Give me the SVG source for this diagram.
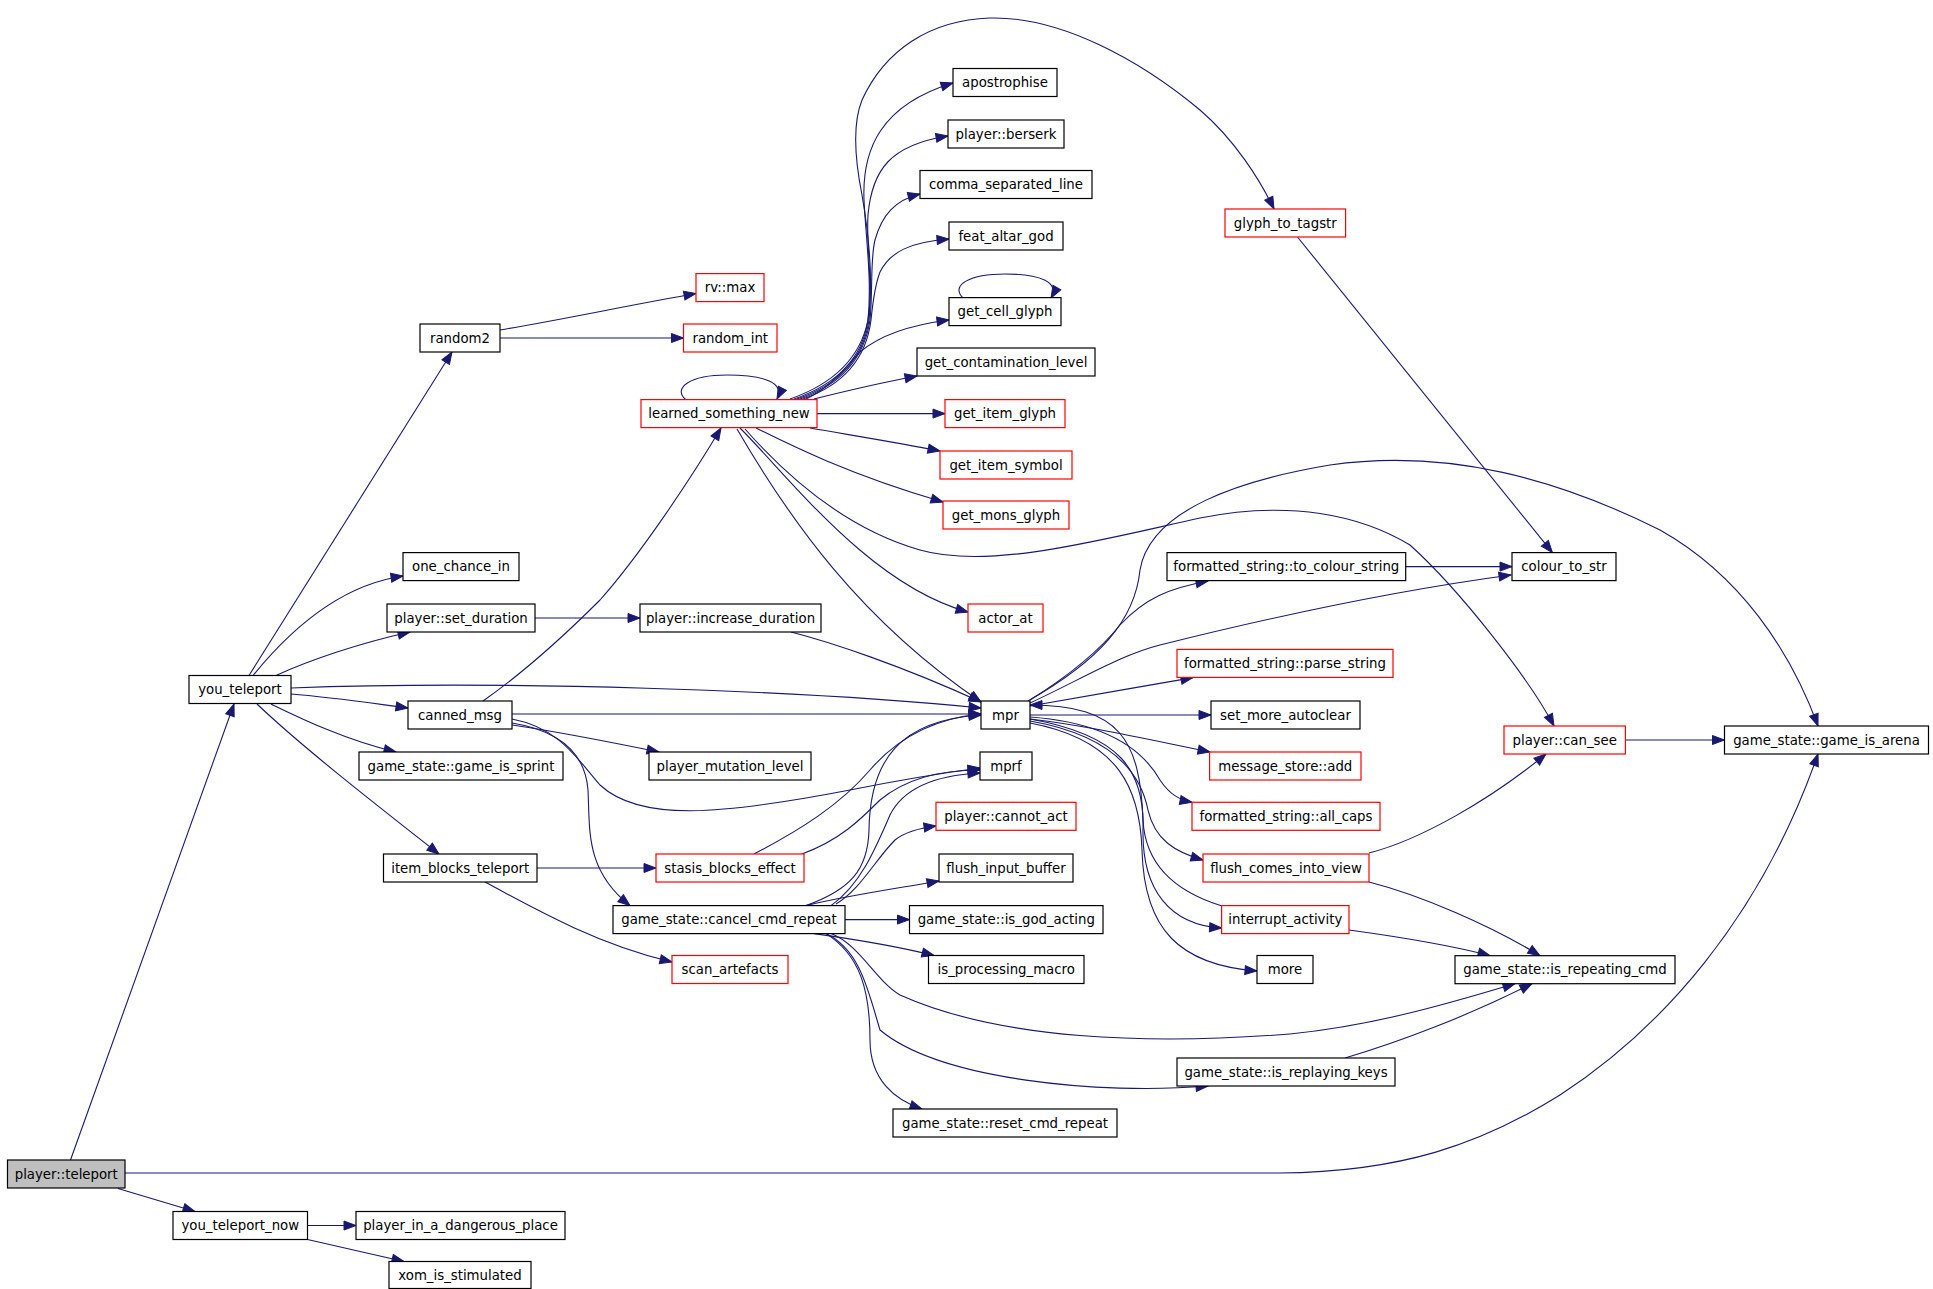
<svg xmlns="http://www.w3.org/2000/svg" width="1933" height="1289" viewBox="0 0 1933 1289">
<style>
.nd rect{fill:#fff;stroke:#000;stroke-width:1.2}
.nd.r rect{stroke:#f00}
.nd.g rect{fill:#bfbfbf}
.nd text{font-family:"DejaVu Sans","Liberation Sans",sans-serif;font-size:13.3px;text-anchor:middle;fill:#000}
#edges path{fill:none;stroke:#191970;stroke-width:1.1;marker-end:url(#a)}
</style>
<defs>
<marker id="a" markerUnits="userSpaceOnUse" markerWidth="13" markerHeight="10" refX="12" refY="4.5" orient="auto" viewBox="0 0 13 10" overflow="visible">
<path d="M0,0 L12,4.5 L0,9 z" fill="#191970" stroke="#191970" stroke-width="1"/>
</marker>
</defs>
<rect width="1933" height="1289" fill="#fff"/>
<g id="edges">
<path d="M70.5,1160 L234,704"/>
<path d="M125,1173 L1280,1173 C1400,1172 1480,1145 1560,1095 C1660,1030 1760,920 1818,754"/>
<path d="M118,1188.5 L195,1211.5"/>
<path d="M249,675.5 L452,352"/>
<path d="M253,675.5 C290,630 340,585 403,576"/>
<path d="M276,675.5 C310,660 360,643 410,632"/>
<path d="M291,688 C500,680 800,690 981,708"/>
<path d="M291,694 C330,697 370,703 408,708"/>
<path d="M271,704 C300,718 345,740 396,752"/>
<path d="M257,704 C300,745 370,800 439,854"/>
<path d="M307.5,1225.5 L356,1225.5"/>
<path d="M307.5,1239.5 L404,1261.5"/>
<path d="M500,330 C560,320 630,305 696,293.5"/>
<path d="M500,338 L683.5,338"/>
<path d="M483,701 C520,675 560,640 600,600 C640,555 690,480 721,428"/>
<path d="M512,714 L981,714"/>
<path d="M512,725 C560,732 610,742 659,752"/>
<path d="M512,719 C560,728 578,760 600,785 C640,822 720,815 850,790 C900,780 950,772 980,768"/>
<path d="M512,723 C555,730 585,750 588,790 C590,830 585,870 630,905.6"/>
<path d="M535,618 L640,618"/>
<path d="M791,632 C830,642 900,665 981,702"/>
<path d="M537,868 L656,868"/>
<path d="M485,882 C540,912 600,945 672,962"/>
<path d="M754,854 C800,830 840,805 870,770 C900,735 940,718 981,714"/>
<path d="M802,854 C840,840 860,820 880,800 C910,775 950,770 980,770"/>
<path d="M686,400 C672,388 690,375 727,375 C765,375 785,383 777,399"/>
<path d="M794,399 C835,385 862,360 868,320 C872,280 866,240 864,200 C862,150 880,105 953,83"/>
<path d="M797,399 C838,385 863,360 869,320 C873,285 866,245 868,215 C872,170 890,145 948,136"/>
<path d="M800,399 C840,385 864,360 870,320 C873,290 870,260 875,240 C882,215 895,200 920,194"/>
<path d="M803,399 C843,385 866,360 871,320 C873,300 875,285 880,272 C890,252 910,242 949,239"/>
<path d="M806,399 C830,388 845,368 860,352 C880,335 910,325 949,320"/>
<path d="M814,399 C850,390 885,382 917,376"/>
<path d="M817,413.6 L945,413.6"/>
<path d="M810,428 C850,435 900,443 940,451"/>
<path d="M756,428 C790,445 850,475 943,502"/>
<path d="M740,428 C790,478 870,585 968,612"/>
<path d="M790,399 C830,385 860,360 868,320 C874,280 868,230 862,195 C855,160 852,125 862,100 C885,50 930,20 990,18 C1060,16 1140,60 1200,110 C1235,140 1260,180 1274,209"/>
<path d="M737,429 C790,520 860,620 981,702"/>
<path d="M745,429 C790,480 850,530 920,550 C990,570 1100,540 1200,518 C1290,500 1360,515 1410,545 C1460,590 1530,680 1554,726"/>
<path d="M963,298 C950,285 970,274 1005,274 C1040,274 1060,282 1051,298"/>
<path d="M1297.5,237 L1552.4,552.6"/>
<path d="M1405.7,566.6 L1512,566.6"/>
<path d="M1030,700 C1070,675 1100,650 1120,625 C1145,598 1170,588 1208,581"/>
<path d="M1030,703 C1080,680 1120,655 1160,645 C1280,615 1400,590 1511,575"/>
<path d="M1028,701 C1100,660 1135,620 1140,570 C1150,510 1240,480 1330,465 C1450,448 1560,480 1660,530 C1740,575 1790,650 1818,726"/>
<path d="M1030,706 C1080,697 1140,687 1193,677.6"/>
<path d="M1030,715 L1211,715"/>
<path d="M1030,719 C1090,726 1150,740 1210,752"/>
<path d="M1030,717 C1100,722 1140,745 1160,780 C1170,795 1180,800 1192,802.3"/>
<path d="M1030,721 C1110,735 1140,770 1148,810 C1155,840 1175,852 1203,860"/>
<path d="M1030,719 C1120,735 1145,770 1143,830 C1142,890 1170,925 1221.6,928"/>
<path d="M1030,723 C1120,740 1140,790 1142,850 C1144,930 1180,965 1257,971"/>
<path d="M1222,906 C1170,890 1145,860 1143,820 C1140,740 1120,705 1030,705"/>
<path d="M1349,930 C1400,937 1450,945 1490,955.7"/>
<path d="M1369,853 C1420,840 1490,800 1546,754"/>
<path d="M1369,882 C1420,895 1490,925 1540,955.7"/>
<path d="M1625.4,740 L1724.5,740"/>
<path d="M806,905.6 C850,890 868,870 869,830 C870,760 900,720 981,715"/>
<path d="M831,905.6 C860,885 875,850 890,815 C905,785 940,775 980,773"/>
<path d="M836,904 C860,890 875,860 895,840 C905,832 920,828 936,826"/>
<path d="M806,905.6 C850,895 900,888 939,881"/>
<path d="M845,919.6 L909.5,919.6"/>
<path d="M814,933.6 C860,940 900,947 934,955.5"/>
<path d="M831,933.6 C860,945 875,980 900,995 C1000,1040 1150,1045 1290,1034 C1380,1025 1460,1000 1515,983.7"/>
<path d="M826,933.6 C860,950 868,990 880,1030 C940,1080 1100,1095 1208,1086"/>
<path d="M826,933.6 C860,955 870,990 870,1040 C870,1080 895,1100 922,1109"/>
<path d="M1345,1058 C1400,1042 1470,1015 1532,983.7"/>
</g>
<g id="n_player_teleport" class="nd g"><rect x="7.5" y="1160" width="117.5" height="28"/><text x="66.25" y="1178.5">player::teleport</text></g>
<g id="n_you_teleport" class="nd"><rect x="189" y="675.5" width="102" height="28"/><text x="240" y="694">you_teleport</text></g>
<g id="n_you_teleport_now" class="nd"><rect x="173" y="1211.5" width="134.5" height="28"/><text x="240.25" y="1230">you_teleport_now</text></g>
<g id="n_random2" class="nd"><rect x="420" y="324" width="80" height="28"/><text x="460" y="342.5">random2</text></g>
<g id="n_one_chance_in" class="nd"><rect x="403" y="552.6" width="116" height="28"/><text x="461" y="571.1">one_chance_in</text></g>
<g id="n_set_duration" class="nd"><rect x="387" y="604" width="148" height="28"/><text x="461" y="622.5">player::set_duration</text></g>
<g id="n_canned_msg" class="nd"><rect x="408" y="701" width="104" height="28"/><text x="460" y="719.5">canned_msg</text></g>
<g id="n_game_is_sprint" class="nd"><rect x="359" y="752" width="204" height="28"/><text x="461" y="770.5">game_state::game_is_sprint</text></g>
<g id="n_item_blocks_teleport" class="nd"><rect x="383.5" y="854" width="153.5" height="28"/><text x="460.25" y="872.5">item_blocks_teleport</text></g>
<g id="n_player_in_a_dangerous_place" class="nd"><rect x="356" y="1211.5" width="209" height="28"/><text x="460.5" y="1230">player_in_a_dangerous_place</text></g>
<g id="n_xom_is_stimulated" class="nd"><rect x="389" y="1261.5" width="142" height="27"/><text x="460" y="1279.5">xom_is_stimulated</text></g>
<g id="n_rv_max" class="nd r"><rect x="696" y="273.6" width="68" height="28"/><text x="730" y="292.1">rv::max</text></g>
<g id="n_random_int" class="nd r"><rect x="683.5" y="324" width="93.5" height="28"/><text x="730.25" y="342.5">random_int</text></g>
<g id="n_learned_something_new" class="nd r"><rect x="641" y="399.6" width="176" height="28"/><text x="729" y="418.1">learned_something_new</text></g>
<g id="n_increase_duration" class="nd"><rect x="640" y="604" width="181" height="28"/><text x="730.5" y="622.5">player::increase_duration</text></g>
<g id="n_player_mutation_level" class="nd"><rect x="649" y="752" width="162" height="28"/><text x="730" y="770.5">player_mutation_level</text></g>
<g id="n_stasis_blocks_effect" class="nd r"><rect x="656" y="854" width="148" height="28"/><text x="730" y="872.5">stasis_blocks_effect</text></g>
<g id="n_cancel_cmd_repeat" class="nd"><rect x="613" y="905.6" width="232" height="28"/><text x="729" y="924.1">game_state::cancel_cmd_repeat</text></g>
<g id="n_scan_artefacts" class="nd r"><rect x="672" y="955.5" width="116" height="28"/><text x="730" y="974">scan_artefacts</text></g>
<g id="n_apostrophise" class="nd"><rect x="953" y="68.5" width="104" height="28"/><text x="1005" y="87">apostrophise</text></g>
<g id="n_berserk" class="nd"><rect x="948" y="120" width="116" height="28"/><text x="1006" y="138.5">player::berserk</text></g>
<g id="n_comma_separated_line" class="nd"><rect x="920" y="170.5" width="172" height="28"/><text x="1006" y="189">comma_separated_line</text></g>
<g id="n_feat_altar_god" class="nd"><rect x="949" y="222" width="114" height="28"/><text x="1006" y="240.5">feat_altar_god</text></g>
<g id="n_get_cell_glyph" class="nd"><rect x="949" y="297.6" width="112" height="28"/><text x="1005" y="316.1">get_cell_glyph</text></g>
<g id="n_get_contamination_level" class="nd"><rect x="917" y="348" width="178" height="28"/><text x="1006" y="366.5">get_contamination_level</text></g>
<g id="n_get_item_glyph" class="nd r"><rect x="945" y="399.6" width="120" height="28"/><text x="1005" y="418.1">get_item_glyph</text></g>
<g id="n_get_item_symbol" class="nd r"><rect x="940" y="451" width="132" height="28"/><text x="1006" y="469.5">get_item_symbol</text></g>
<g id="n_get_mons_glyph" class="nd r"><rect x="943" y="501" width="126" height="28"/><text x="1006" y="519.5">get_mons_glyph</text></g>
<g id="n_actor_at" class="nd r"><rect x="968" y="604" width="75" height="28"/><text x="1005.5" y="622.5">actor_at</text></g>
<g id="n_mpr" class="nd"><rect x="981" y="701" width="49" height="28"/><text x="1005.5" y="719.5">mpr</text></g>
<g id="n_mprf" class="nd"><rect x="980" y="752" width="52" height="28"/><text x="1006" y="770.5">mprf</text></g>
<g id="n_cannot_act" class="nd r"><rect x="936" y="802.3" width="140" height="28"/><text x="1006" y="820.8">player::cannot_act</text></g>
<g id="n_flush_input_buffer" class="nd"><rect x="939" y="854" width="134" height="28"/><text x="1006" y="872.5">flush_input_buffer</text></g>
<g id="n_is_god_acting" class="nd"><rect x="909.5" y="905.6" width="193.5" height="28"/><text x="1006.25" y="924.1">game_state::is_god_acting</text></g>
<g id="n_is_processing_macro" class="nd"><rect x="928.5" y="955.5" width="155.5" height="28"/><text x="1006.25" y="974">is_processing_macro</text></g>
<g id="n_reset_cmd_repeat" class="nd"><rect x="893" y="1109" width="224" height="28"/><text x="1005" y="1127.5">game_state::reset_cmd_repeat</text></g>
<g id="n_glyph_to_tagstr" class="nd r"><rect x="1225" y="209" width="120.6" height="28"/><text x="1285.3" y="227.5">glyph_to_tagstr</text></g>
<g id="n_to_colour_string" class="nd"><rect x="1167" y="552.6" width="238.7" height="28"/><text x="1286.3" y="571.1">formatted_string::to_colour_string</text></g>
<g id="n_parse_string" class="nd r"><rect x="1177" y="649.4" width="216" height="28"/><text x="1285" y="667.9">formatted_string::parse_string</text></g>
<g id="n_set_more_autoclear" class="nd"><rect x="1211" y="701" width="149" height="28"/><text x="1285.5" y="719.5">set_more_autoclear</text></g>
<g id="n_message_store_add" class="nd r"><rect x="1209.6" y="752" width="151.4" height="28"/><text x="1285.3" y="770.5">message_store::add</text></g>
<g id="n_all_caps" class="nd r"><rect x="1192" y="802.3" width="188" height="28"/><text x="1286" y="820.8">formatted_string::all_caps</text></g>
<g id="n_flush_comes_into_view" class="nd r"><rect x="1203" y="854" width="166" height="28"/><text x="1286" y="872.5">flush_comes_into_view</text></g>
<g id="n_interrupt_activity" class="nd r"><rect x="1221.6" y="905.6" width="127.4" height="28"/><text x="1285.3" y="924.1">interrupt_activity</text></g>
<g id="n_more" class="nd"><rect x="1257" y="955.5" width="56" height="28"/><text x="1285" y="974">more</text></g>
<g id="n_is_replaying_keys" class="nd"><rect x="1177" y="1058" width="218" height="28"/><text x="1286" y="1076.5">game_state::is_replaying_keys</text></g>
<g id="n_colour_to_str" class="nd"><rect x="1512" y="552.6" width="104" height="28"/><text x="1564" y="571.1">colour_to_str</text></g>
<g id="n_can_see" class="nd r"><rect x="1504" y="726" width="121.4" height="28"/><text x="1564.7" y="744.5">player::can_see</text></g>
<g id="n_is_repeating_cmd" class="nd"><rect x="1455" y="955.7" width="220" height="28"/><text x="1565" y="974.2">game_state::is_repeating_cmd</text></g>
<g id="n_game_is_arena" class="nd"><rect x="1724.5" y="726" width="204" height="28"/><text x="1826.5" y="744.5">game_state::game_is_arena</text></g>
</svg>
